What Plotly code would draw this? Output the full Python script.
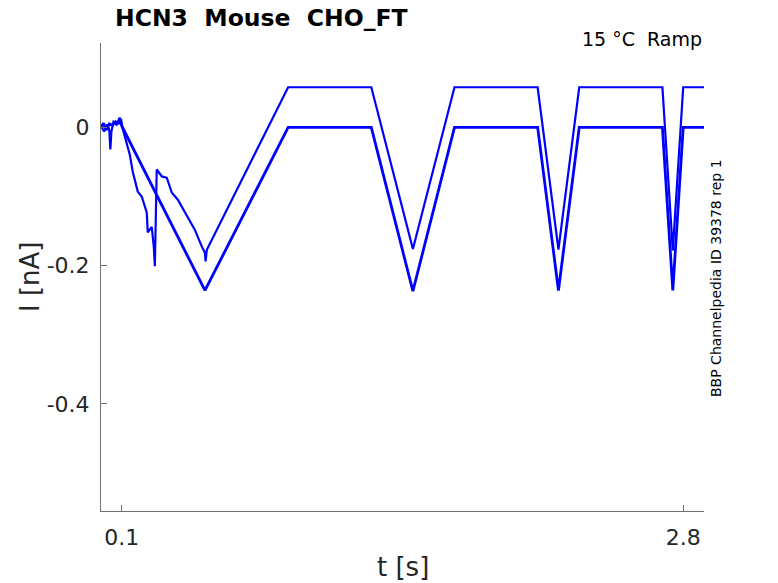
import plotly.graph_objects as go

# Sweep A (baseline ~0 nA)
t_a = [0.0, 0.012, 0.025, 0.04, 0.055, 0.07, 0.085, 0.095, 0.1,
       0.5, 0.9, 1.3, 1.5, 1.7, 2.1, 2.2, 2.3, 2.7, 2.75, 2.8, 2.9]
i_a = [0.0, 0.006, -0.004, 0.005, 0.003, 0.008, 0.006, 0.012, 0.002,
       -0.236, 0.0, 0.0, -0.237, 0.0, 0.0, -0.236, 0.0, 0.0, -0.236, 0.0, 0.0]

# Sweep B (baseline ~0.058 nA after the artefact)
t_b = [0.0, 0.015, 0.03, 0.04, 0.045, 0.05, 0.06, 0.075, 0.09, 0.1,
       0.105, 0.1385, 0.153, 0.177, 0.196, 0.22, 0.225, 0.244, 0.254, 0.259,
       0.268, 0.2925, 0.3166, 0.3407, 0.3695, 0.403, 0.451, 0.485, 0.4995, 0.503, 0.509,
       0.9, 1.3, 1.5, 1.7, 2.1, 2.2, 2.3, 2.7, 2.75, 2.8, 2.9]
i_b = [0.002, -0.006, 0.004, -0.004, -0.032, -0.006, 0.008, 0.004, 0.014, 0.003,
       -0.0065, -0.0397, -0.0646, -0.093, -0.100, -0.123, -0.152, -0.144, -0.173, -0.201,
       -0.061, -0.071, -0.073, -0.0946, -0.1047, -0.123, -0.148, -0.1726, -0.181, -0.194, -0.177,
       0.058, 0.058, -0.176, 0.058, 0.058, -0.177, 0.058, 0.058, -0.178, 0.058, 0.058]

x_ticks = [0.1, 2.8]
x_ticktext = ["0.1", "2.8"]
y_ticks = [0, -0.2, -0.4]
y_ticktext = ["0", "-0.2", "-0.4"]

FONT = "DejaVu Sans"
TXT = "#262626"
AX = "#707070"
NB = "\u00a0"

fig = go.Figure()
fig.add_trace(go.Scatter(x=t_a, y=i_a, mode="lines",
                         line=dict(color="#0000ff", width=2.8), showlegend=False))
fig.add_trace(go.Scatter(x=t_b, y=i_b, mode="lines",
                         line=dict(color="#0000ff", width=2.2), showlegend=False))

fig.update_layout(
    width=778, height=583,
    margin=dict(l=101, r=74, t=43, b=72, autoexpand=False),
    paper_bgcolor="white", plot_bgcolor="white",
    font=dict(family=FONT, color=TXT),
    title=dict(text=f"<b>HCN3{NB}{NB}Mouse{NB}{NB}CHO_FT</b>", x=115/778, xanchor="left",
               xref="container", y=1-18/583, yanchor="middle", yref="container",
               font=dict(size=23.5, color="black", family=FONT)),
    xaxis=dict(range=[0, 2.9], tickvals=x_ticks, ticktext=x_ticktext,
               showgrid=False, zeroline=False, showline=True, linecolor=AX, linewidth=1,
               ticks="inside", ticklen=6, tickcolor=AX,
               tickfont=dict(size=22, color=TXT), ticklabelstandoff=7),
    yaxis=dict(range=[-0.555, 0.122], tickvals=y_ticks, ticktext=y_ticktext,
               showgrid=False, zeroline=False, showline=True, linecolor=AX, linewidth=1,
               ticks="inside", ticklen=6, tickcolor=AX,
               tickfont=dict(size=22, color=TXT), ticklabelstandoff=6),
    annotations=[
        dict(text=f"15 °C{NB}{NB}Ramp", xref="paper", yref="paper", x=1.0, y=1 + 4/468,
             xanchor="right", yanchor="middle", showarrow=False,
             font=dict(size=19, color="black", family=FONT)),
        dict(text="BBP Channelpedia ID 39378 rep 1", xref="paper", yref="paper",
             x=(716-101)/603, y=(511-278)/468, xanchor="center", yanchor="middle",
             textangle=-90, showarrow=False,
             font=dict(size=14, color="black", family=FONT)),
        dict(text="I [nA]", xref="paper", yref="paper", x=(30-101)/603, y=(511-277)/468,
             xanchor="center", yanchor="middle", textangle=-90, showarrow=False,
             font=dict(size=26, color=TXT, family=FONT)),
        dict(text="t [s]", xref="paper", yref="paper", x=0.5, y=-(567-511)/468,
             xanchor="center", yanchor="middle", showarrow=False,
             font=dict(size=26, color=TXT, family=FONT)),
    ],
)

fig.write_html("out.html", config={"displayModeBar": False},
               post_script="document.body.style.margin='0px';document.body.style.padding='0px';")
